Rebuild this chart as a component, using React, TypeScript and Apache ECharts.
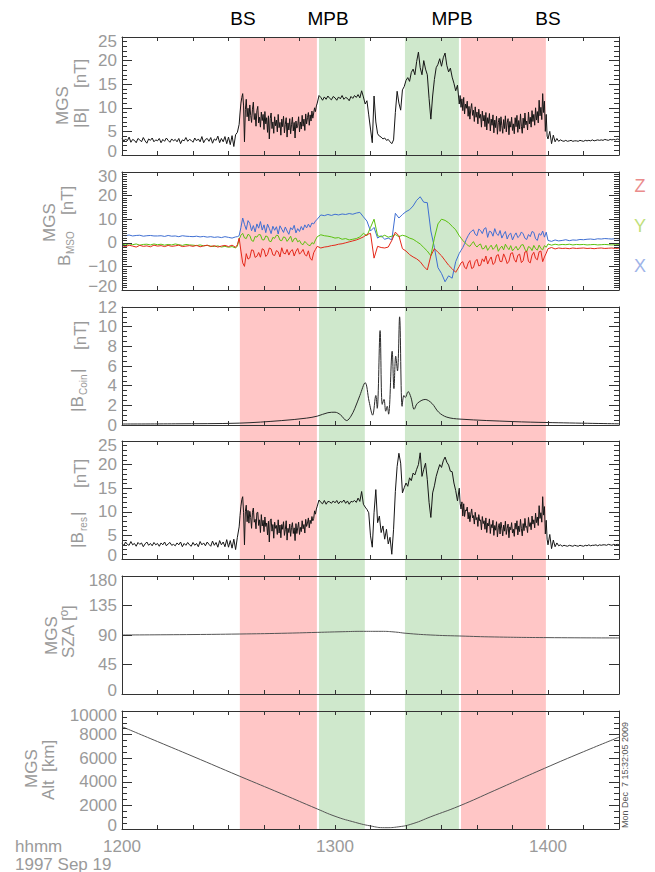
import React, { useEffect, useRef } from 'react';
import * as echarts from 'echarts';

// ---------------- data (time axis in minutes after 12:00) ----------------
// Field-magnitude panels are stored as segments: quiet / sheath / pile-up / sheath / quiet.
const MAG_SEG_START = [0, 33, 55.5, 95.25, 120.5];
const MAG_SEG_STEP = [0.5, 0.25, 0.5, 0.25, 0.5];

// |B| total field, nT
const B_TOTAL_Q1 = [
  3.6, 2.9, 3.4, 3.0, 3.8, 2.7, 3.3, 3.1, 2.6, 3.5,
  3.2, 2.8, 3.7, 3.0, 2.5, 3.4, 3.1, 3.6, 2.8, 3.2,
  3.0, 3.5, 2.6, 3.3, 2.9, 3.6, 3.1, 2.7, 3.4, 3.0,
  3.3, 2.8, 3.5, 2.4, 3.2, 3.0, 3.7, 2.9, 3.3, 3.1,
  2.7, 3.6, 3.0, 3.4, 2.8, 3.9, 2.6, 3.3, 3.5, 2.9,
  3.7, 2.5, 3.4, 3.1, 4.0, 2.6, 3.5, 2.8, 3.9, 2.4,
  3.8, 2.2, 4.1, 1.8, 4.3, 4.8,
];
const B_TOTAL_S1 = [
  6.5, 8.9, 11.0, 12.2, 13.0, 10.4, 2.8, 9.6, 11.8, 8.1,
  9.9, 7.2, 10.6, 8.4, 6.9, 9.7, 11.2, 7.5, 8.8, 6.1,
  9.4, 10.3, 6.8, 8.0, 5.9, 9.1, 7.3, 8.6, 5.4, 9.2,
  6.6, 7.9, 4.8, 8.3, 3.4, 7.7, 8.9, 5.6, 7.0, 4.6,
  8.1, 6.2, 7.4, 4.9, 8.6, 5.8, 6.9, 4.2, 7.6, 6.0,
  8.2, 4.7, 6.5, 7.9, 3.8, 6.8, 5.3, 7.7, 4.5, 6.4,
  8.0, 5.1, 6.9, 3.6, 7.2, 5.7, 6.3, 8.1, 4.9, 7.0,
  5.5, 8.4, 6.1, 7.6, 5.2, 8.7, 6.6, 7.9, 9.0, 6.3,
  8.5, 7.2, 9.3, 7.8, 8.9, 10.0, 9.2, 10.4, 11.0,
];
const B_TOTAL_M = [
  12.6, 12.2, 11.6, 12.3, 11.8, 12.5, 12.0, 11.7, 12.4,
  12.1, 11.6, 12.3, 11.9, 12.6, 11.8, 12.2, 12.0, 11.5, 12.4,
  12.0, 12.6, 12.2, 12.8, 12.1, 13.6, 12.3, 10.8, 11.5, 8.5,
  5.5, 2.6, 12.5, 7.0, 4.5, 4.0, 3.8, 3.4, 3.6, 3.1,
  3.3, 2.8, 2.4, 3.2, 9.0, 13.5, 11.0, 9.5, 13.8, 14.5,
  15.8, 16.4, 15.6, 17.5, 18.2, 17.0, 19.8, 21.8, 18.5, 17.0,
  20.0, 18.2, 17.0, 12.0, 7.6, 12.5, 16.0, 18.5, 19.2, 20.4,
  18.8, 20.6, 21.6, 19.0, 17.6, 18.4, 16.5, 15.2, 13.6, 14.8,
  10.8,
];
const B_TOTAL_S2 = [
  12.6, 10.1, 11.9, 9.4, 12.2, 8.7, 10.8, 9.9, 11.4, 8.2,
  10.3, 7.6, 9.8, 10.9, 8.4, 9.5, 7.1, 10.2, 8.0, 9.1,
  6.6, 9.7, 7.8, 8.6, 5.9, 9.3, 7.2, 8.4, 6.0, 9.0,
  5.3, 7.9, 6.7, 8.8, 5.1, 7.6, 6.3, 8.5, 4.7, 7.4,
  5.8, 8.2, 4.4, 6.9, 7.8, 5.0, 8.1, 6.2, 4.6, 7.5,
  5.6, 8.3, 4.9, 6.8, 7.7, 4.3, 7.1, 5.9, 8.0, 5.2,
  6.6, 4.5, 7.9, 6.0, 8.4, 4.8, 7.3, 5.5, 8.7, 6.1,
  4.6, 7.8, 5.7, 8.9, 6.4, 7.2, 5.3, 9.1, 6.6, 8.0,
  5.9, 9.4, 7.1, 8.6, 6.3, 10.0, 7.4, 9.2, 6.8, 11.6,
  8.3, 10.1, 7.5, 13.0, 9.0, 11.4, 5.0, 8.6, 4.0, 3.4,
];
const B_TOTAL_Q2 = [
  5.0, 2.4, 4.2, 2.8, 3.5, 2.9, 3.2, 3.0, 2.9,
  3.1, 2.9, 3.0, 3.1, 2.9, 3.0, 3.0, 2.9, 3.1, 3.0,
  2.9, 3.1, 3.0, 3.1, 3.0, 3.2, 3.0, 3.1, 3.2, 3.1,
  3.2, 3.1, 3.3, 3.2, 3.1, 3.3, 3.2, 3.3, 3.2, 3.4,
  3.3,
];

// |B_res| residual field, nT
const B_RES_Q1 = [
  3.4, 2.8, 3.6, 3.1, 2.9, 3.7, 3.0, 3.3, 2.7, 3.5,
  3.1, 3.4, 2.6, 3.2, 3.6, 2.9, 3.3, 2.8, 3.5, 3.0,
  3.3, 2.7, 3.4, 3.0, 3.6, 2.8, 3.2, 3.5, 2.9, 3.1,
  2.8, 3.4, 3.0, 3.6, 2.6, 3.3, 2.9, 3.5, 3.0, 2.7,
  3.5, 2.9, 3.3, 2.6, 3.7, 3.0, 3.4, 2.8, 3.6, 3.1,
  2.7, 3.8, 2.9, 3.5, 2.5, 3.9, 3.0, 3.6, 2.6, 4.1,
  2.5, 3.9, 2.3, 4.2, 2.0, 4.6,
];
const B_RES_S1 = [
  6.8, 9.2, 11.2, 12.6, 13.2, 9.8, 3.0, 10.1, 11.4, 7.9,
  10.3, 7.6, 10.1, 8.8, 6.5, 9.9, 10.8, 7.8, 8.4, 6.4,
  9.8, 9.9, 7.1, 8.3, 5.6, 9.4, 7.0, 8.2, 5.8, 8.9,
  6.9, 7.6, 5.1, 8.0, 3.6, 8.1, 8.5, 5.9, 7.3, 4.4,
  7.8, 6.5, 7.1, 5.2, 8.3, 5.5, 7.2, 4.5, 7.3, 6.3,
  7.9, 5.0, 6.2, 8.1, 4.0, 6.5, 5.6, 7.4, 4.8, 6.7,
  7.7, 5.4, 6.6, 3.9, 7.5, 5.4, 6.6, 7.8, 5.2, 6.7,
  5.8, 8.1, 6.4, 7.3, 5.5, 8.4, 6.9, 7.6, 8.7, 6.6,
  8.2, 7.5, 9.0, 8.1, 8.6, 10.2, 9.5, 10.6, 11.2,
];
const B_RES_M = [
  12.5, 12.0, 11.7, 12.4, 11.6, 12.2, 12.1, 11.8, 12.3,
  11.9, 12.4, 11.7, 12.2, 12.0, 12.5, 11.8, 12.3, 11.6, 12.2,
  12.1, 12.4, 12.0, 12.9, 12.2, 14.3, 11.6, 11.0, 10.5, 9.8,
  4.9, 2.5, 9.8, 14.7, 7.7, 9.1, 5.6, 7.0, 4.2, 6.3,
  3.2, 4.6, 1.0, 6.3, 14.3, 19.6, 22.4, 20.3, 14.0, 15.1,
  16.1, 15.4, 17.2, 16.6, 18.2, 17.8, 19.0, 20.0, 22.5, 17.5,
  19.0, 20.3, 16.8, 12.0, 8.8, 14.0, 15.5, 17.5, 18.8, 20.0,
  19.4, 20.8, 21.6, 20.5, 19.9, 18.6, 18.5, 16.1, 14.5, 12.3,
  15.0,
];
const B_RES_S2 = [
  11.8, 10.6, 12.1, 9.1, 11.7, 9.0, 10.4, 10.2, 11.0, 8.5,
  9.9, 7.9, 9.5, 10.6, 8.7, 9.2, 7.4, 9.9, 8.3, 8.8,
  6.9, 9.4, 8.1, 8.3, 6.2, 9.0, 7.5, 8.1, 6.3, 8.7,
  5.6, 7.6, 7.0, 8.5, 5.4, 7.3, 6.6, 8.2, 5.0, 7.1,
  6.1, 7.9, 4.7, 6.6, 7.5, 5.3, 7.8, 6.5, 4.9, 7.2,
  5.9, 8.0, 5.2, 6.5, 7.4, 4.5, 6.8, 6.2, 7.7, 5.5,
  6.3, 4.8, 7.6, 6.3, 8.1, 5.1, 7.0, 5.8, 8.4, 6.4,
  4.9, 7.5, 6.0, 8.6, 6.7, 6.9, 5.6, 8.8, 6.9, 7.7,
  6.2, 9.1, 7.4, 8.3, 6.6, 9.7, 7.7, 8.9, 7.1, 11.3,
  8.6, 9.8, 7.8, 13.2, 9.3, 11.1, 5.3, 8.2, 4.2, 3.0,
];
const B_RES_Q2 = [
  5.2, 2.2, 4.0, 2.6, 3.4, 2.8, 3.0, 2.7, 2.9,
  2.8, 2.7, 2.9, 2.8, 2.7, 2.9, 2.8, 2.7, 2.9, 2.8,
  2.7, 2.9, 2.8, 3.0, 2.8, 2.9, 2.9, 3.0, 2.8, 3.0,
  2.9, 3.0, 3.0, 2.9, 3.1, 3.0, 2.9, 3.1, 3.0, 3.1,
  3.0,
];

// B components in MSO frame, nT
const VEC_SEG_START = [0, 32.5, 56, 95.5, 121];
const VEC_SEG_STEP = [1, 0.5, 1, 0.5, 1];

const BX_Q1 = [
  3.2, 3.0, 3.3, 2.9, 3.1, 3.2, 2.8, 3.0, 3.1, 2.9,
  2.9, 3.0, 2.7, 3.1, 2.8, 2.9, 2.6, 3.0, 2.8, 2.7,
  2.6, 2.8, 2.5, 2.7, 2.4, 2.6, 2.3, 2.5, 2.2, 2.6,
  2.3, 2.0, 2.5,
];
const BX_S1 = [
  2.6, 3.0, 6.5, 10.5, 7.8, 5.6, 9.4, 8.2, 5.1, 7.3,
  4.6, 8.0, 6.2, 9.0, 5.4, 7.6, 4.3, 7.9, 6.1, 3.9,
  7.0, 5.3, 6.8, 3.7, 7.2, 5.8, 4.4, 6.7, 5.0, 3.6,
  6.4, 5.5, 7.4, 4.2, 6.0, 4.8, 6.9, 5.4, 7.6, 6.3,
  7.9, 6.6, 8.4, 8.0, 9.2, 10.0,
];
const BX_M = [
  11.8, 11.5, 12.0, 11.6,
  12.1, 11.8, 12.2, 12.0, 12.4, 12.1, 12.6, 12.9, 11.0, 9.2,
  5.0, 6.5, 2.0, 3.0, 1.5, 2.0, 1.2, 12.5, 10.5, 12.0,
  13.2, 14.0, 15.6, 18.0, 19.5, 17.2, 17.0, 5.0, -2.0, -10.5,
  -13.0, -16.5, -14.0, -15.0, -8.0, -4.5,
];
const BX_S2 = [
  -3.2, -2.0, -0.4, 1.5, 3.0, 4.2, 5.0, 5.5, 3.6, 3.0,
  5.8, 5.2, 3.9, 5.9, 6.4, 2.3, 4.9, 4.6, 2.8, 6.0,
  3.8, 3.1, 5.2, 2.0, 3.6, 4.8, 1.6, 3.4, 4.1, 1.2,
  3.0, 4.2, 2.2, 2.9, 4.6, 3.8, 1.9, 1.4, 3.5, 2.6,
  4.8, 4.4, 1.7, 1.0, 3.9, 3.2, 5.0, 2.4, 4.5, 1.0,
];
const BX_Q2 = [
  0.6, 1.2, 0.8, 1.0, 1.3, 0.9, 1.2, 1.1, 1.4,
  1.3, 1.5, 1.6, 1.4, 1.7, 1.6, 1.8, 1.7, 1.6, 1.8,
  1.7,
];

const BY_Q1 = [
  -0.6, -0.9, -0.4, -0.8, -0.5, -1.0, -0.7, -0.6, -0.9, -0.5,
  -0.8, -0.6, -1.0, -0.7, -0.9, -0.5, -0.8, -1.1, -0.7, -0.9,
  -1.0, -1.2, -0.9, -1.3, -1.1, -1.4, -1.6, -1.3, -1.8, -1.5,
  -1.9, -1.6, -2.2,
];
const BY_S1 = [
  -1.4, 1.5, 3.2, 4.0, 2.1, 1.8, 3.6, 3.1, 1.0, 0.6,
  2.7, 2.4, 3.5, 3.4, 1.3, 1.2, 2.9, 2.6, 0.7, 0.5,
  2.3, 1.9, 3.2, 3.0, 1.1, 0.9, 2.5, 2.2, 0.6, 1.6,
  2.8, 0.3, 1.7, 2.0, 0.4, 1.0, -0.4, -0.8, 0.6, -0.2,
  -1.0, -1.2, 0.1, -0.5, 1.2, 2.6,
];
const BY_M = [
  3.4, 3.0, 2.8, 2.5,
  2.0, 2.2, 1.5, 1.8, 1.2, 1.5, 1.8, 2.5, 4.0, 3.0,
  6.5, 10.0, 3.0, 2.5, 3.2, 2.4, 2.8, 3.5, 2.6, 3.2,
  2.8, 2.0, 1.5, 0.5, -0.5, -2.0, -3.5, -5.5, 2.0, 8.0,
  10.0, 9.5, 8.5, 7.0, 5.5, 3.0,
];
const BY_S2 = [
  2.0, 1.0, 0.2, -0.5, -1.2, -1.5, -0.4, 0.5, -1.0, -1.8,
  -0.9, -0.5, -2.6, -2.4, -1.1, -3.2, -2.0, -1.0, -2.8, -2.0,
  -0.7, -3.6, -2.3, -1.4, -3.0, -0.6, -1.9, -2.9, -1.2, -3.4,
  -2.5, -1.5, -3.1, -2.2, -0.9, -0.8, -2.7, -3.8, -1.6, -2.0,
  -3.3, -1.1, -2.5, -3.1, -1.0, -2.4, -3.0, -1.2, -1.9, -0.5,
];
const BY_Q2 = [
  -1.0, -0.6, -0.9, -0.7, -0.8, -0.6, -0.9, -0.7, -0.8,
  -0.7, -0.9, -0.8, -0.7, -0.9, -0.8, -0.7, -0.8, -0.9, -0.8,
  -0.8,
];

const BZ_Q1 = [
  -1.2, -1.6, -1.0, -1.4, -1.8, -1.1, -1.5, -1.3, -1.7, -1.0,
  -1.4, -1.2, -1.6, -1.1, -1.5, -1.3, -1.0, -1.6, -1.4, -1.2,
  -1.5, -1.1, -1.7, -1.3, -1.0, -1.6, -1.2, -1.8, -1.4, -1.1,
  -1.6, -1.0, -1.9,
];
const BZ_S1 = [
  -0.8, 2.0, -3.5, -8.5, -10.0, -4.6, -6.9, -6.4, -3.0, -3.2,
  -6.2, -5.7, -4.1, -6.1, -2.5, -3.0, -5.8, -4.9, -2.2, -2.6,
  -5.1, -5.4, -3.3, -3.8, -6.0, -2.1, -4.4, -4.7, -2.8, -5.2,
  -3.5, -2.9, -5.6, -3.6, -2.4, -4.8, -4.0, -2.8, -5.0, -5.6,
  -3.4, -6.5, -7.4, -4.2, -2.8, -1.5,
];
const BZ_M = [
  -2.2, -1.8, -1.6, -1.2,
  -1.0, -0.6, -0.4, 0.0, 0.4, 0.8, 1.2, 1.8, 2.5, 3.5,
  4.0, -6.5, -1.5, -2.0, -2.2, -1.8, 1.0, 4.5, 3.0, -2.5,
  -3.5, -5.0, -6.0, -6.8, -8.0, -10.0, -11.5, -5.5, -2.5, -4.0,
  -5.5, -7.5, -9.5, -11.0, -12.5, -10.0,
];
const BZ_S2 = [
  -8.5, -8.0, -10.4, -11.0, -8.6, -7.5, -10.9, -10.5, -7.9, -7.0,
  -9.8, -9.5, -6.8, -8.0, -5.6, -9.0, -7.2, -6.0, -9.2, -8.5,
  -5.4, -5.0, -7.9, -8.0, -4.7, -6.4, -8.8, -7.8, -4.5, -4.2,
  -7.0, -8.2, -5.3, -4.8, -8.4, -7.6, -3.9, -3.6, -7.9, -8.5,
  -5.2, -4.0, -6.6, -7.2, -3.8, -3.5, -8.0, -6.0, -4.4, -2.5,
];
const BZ_Q2 = [
  -2.0, -2.6, -2.2, -2.4, -2.3, -2.5, -2.2, -2.4, -2.3,
  -2.2, -2.4, -2.3, -2.5, -2.3, -2.2, -2.4, -2.3, -2.2, -2.4,
  -2.3,
];

// |B_Coin| crustal model field, [minute, nT]
const B_COIN = [
  [0, 0.1], [15, 0.12], [33, 0.19], [45, 0.45], [52, 0.7], [55, 0.9], [58, 1.25],
  [60, 1.3], [61.5, 1.05], [63.3, 0.45], [64.5, 0.9], [65.6, 1.7], [67, 3.0],
  [68.5, 4.3], [69.6, 2.4], [70.6, 1.0], [71.5, 3.0], [71.9, 1.7], [72.7, 9.6],
  [73.3, 2.1], [73.8, 2.6], [74.3, 1.4], [74.7, 1.9], [75.1, 1.1], [76.1, 7.5],
  [76.6, 3.7], [77.1, 7.0], [77.6, 5.5], [78.2, 11.0], [78.9, 1.9], [79.4, 3.0],
  [79.8, 2.8], [80.6, 3.4], [81.4, 2.8], [82.3, 1.6], [83.2, 2.2], [85.4, 2.6],
  [87.3, 2.2], [89.2, 1.3], [91.5, 0.8], [95.2, 0.6], [110, 0.35], [120, 0.25],
  [140, 0.12],
];

// solar zenith angle, [minute, deg]
const SZA = [
  [0, 90], [20, 90.7], [33, 91.5], [45, 92.6], [55, 94], [62, 95.0], [68, 95.6],
  [73, 95.6], [77, 94.5], [80, 92.6], [87, 90], [95, 88.5], [105, 87], [120, 86],
  [140, 85.5],
];

// altitude, [minute, km]
const ALT = [
  [0, 8670], [10, 7410], [20, 6150], [33, 4490], [45, 2980], [55, 1700],
  [60, 1080], [65, 620], [70, 260], [74, 110], [78, 190], [82, 460], [87, 1040],
  [95, 1950], [105, 3270], [119, 5140], [130, 6550], [140, 7780],
];

const X_MIN = 0;
const X_MAX = 140;
const X_TICK_STEP = 10;
const X_TICK_VALUES = [0, 60, 120];
const X_TICK_LABELS = ['1200', '1300', '1400'];

const BAND_START = [33.2, 55.5, 79.7, 95.5];
const BAND_END = [54.9, 68.4, 94.9, 119.4];
const BAND_KIND = [0, 1, 1, 0]; // 0 = sheath (red), 1 = pile-up (green)

const BOUNDARY_LABELS = ['BS', 'MPB', 'MPB', 'BS'];
const COMPONENT_LABELS = ['Z', 'Y', 'X'];
const DATE_LINE = '1997 Sep 19';
const TIME_UNIT = 'hhmm';
const STAMP = 'Mon Dec  7 15:32:05 2009';

// ---------------- layout / style ----------------
const W = 655;
const H = 872;
const GRID_LEFT = 122;
const GRID_RIGHT = 36;
const PANEL_TOPS = [37, 172, 307, 441, 576, 711];
const PANEL_H = 118;
const FONT = '"Liberation Sans", Arial, Helvetica, sans-serif';
const AX = '#333333';
const LBL = '#9a9a9a';
const RED = '#ffc6c6';
const GREEN = '#cfe8cc';
const LABEL_LH = 10;
const EDGE_SHIFT_PAD = 8;

const Y_SPECS = [
  { min: 0, max: 25, interval: 5, minor: 5, shiftEdges: true },
  { min: -20, max: 30, interval: 10, minor: 10, shiftEdges: true },
  { min: 0, max: 12, interval: 2, minor: 4, shiftEdges: false },
  { min: 0, max: 25, interval: 5, minor: 5, shiftEdges: true },
  { min: 0, max: 180, interval: 45, minor: 0, shiftEdges: true },
  { min: 0, max: 10000, interval: 2000, minor: 4, shiftEdges: true },
];

function fmtNum(v: number): string {
  const s = String(Math.round(v * 1000) / 1000);
  return s.replace('-', '\u2212');
}

function segPairs(starts: number[], steps: number[], segs: number[][]): number[][] {
  const out: number[][] = [];
  segs.forEach((seg, k) => {
    seg.forEach((v, i) => out.push([starts[k] + i * steps[k], v]));
  });
  return out;
}

function buildOption() {
  const bTotal = segPairs(MAG_SEG_START, MAG_SEG_STEP, [B_TOTAL_Q1, B_TOTAL_S1, B_TOTAL_M, B_TOTAL_S2, B_TOTAL_Q2]);
  const bRes = segPairs(MAG_SEG_START, MAG_SEG_STEP, [B_RES_Q1, B_RES_S1, B_RES_M, B_RES_S2, B_RES_Q2]);
  const bx = segPairs(VEC_SEG_START, VEC_SEG_STEP, [BX_Q1, BX_S1, BX_M, BX_S2, BX_Q2]);
  const by = segPairs(VEC_SEG_START, VEC_SEG_STEP, [BY_Q1, BY_S1, BY_M, BY_S2, BY_Q2]);
  const bz = segPairs(VEC_SEG_START, VEC_SEG_STEP, [BZ_Q1, BZ_S1, BZ_M, BZ_S2, BZ_Q2]);

  const grids: any[] = PANEL_TOPS.map((top) => ({
    left: GRID_LEFT, right: GRID_RIGHT, top, height: PANEL_H, containLabel: false,
  }));
  grids.push({ left: GRID_LEFT, right: GRID_RIGHT, top: PANEL_TOPS[0], height: PANEL_TOPS[5] + PANEL_H - PANEL_TOPS[0] });

  const xAxes: any[] = [];
  const yAxes: any[] = [];
  PANEL_TOPS.forEach((_, i) => {
    const baseX = {
      type: 'value', gridIndex: i, min: X_MIN, max: X_MAX, interval: X_TICK_STEP, z: 3,
      axisLine: { show: true, onZero: false, lineStyle: { color: AX, width: 1 } },
      axisTick: { show: true, inside: true, length: 4, lineStyle: { color: AX } },
      splitLine: { show: false },
    };
    xAxes.push({
      ...baseX, position: 'bottom',
      axisLabel: i === 5 ? {
        show: true, margin: 9, color: LBL, fontSize: 17, fontFamily: FONT,
        showMinLabel: true, showMaxLabel: true,
        formatter: (v: number) => {
          const k = X_TICK_VALUES.indexOf(Math.round(v));
          return k >= 0 ? X_TICK_LABELS[k] : '';
        },
      } : { show: false },
    });
    xAxes.push({ ...baseX, position: 'top', axisLabel: { show: false } });

    const s = Y_SPECS[i];
    const baseY = {
      type: 'value', gridIndex: i, min: s.min, max: s.max, interval: s.interval, z: 3,
      axisLine: { show: true, onZero: false, lineStyle: { color: AX, width: 1 } },
      axisTick: { show: true, inside: true, length: 10, lineStyle: { color: AX } },
      minorTick: { show: s.minor > 0, splitNumber: s.minor || 5, length: 5, lineStyle: { color: AX } },
      splitLine: { show: false },
      minorSplitLine: { show: false },
    };
    const labelBase: any = {
      show: true, margin: 5, color: LBL, fontSize: 17, fontFamily: FONT,
      showMinLabel: true, showMaxLabel: true, hideOverlap: false,
    };
    let axisLabel: any;
    if (s.shiftEdges) {
      axisLabel = {
        ...labelBase,
        lineHeight: LABEL_LH,
        rich: {
          lo: { fontSize: 17, fontFamily: FONT, color: LBL, lineHeight: LABEL_LH, padding: [0, 0, EDGE_SHIFT_PAD, 0] },
          hi: { fontSize: 17, fontFamily: FONT, color: LBL, lineHeight: LABEL_LH, padding: [EDGE_SHIFT_PAD, 0, 0, 0] },
        },
        formatter: (v: number) => {
          const t = fmtNum(v);
          if (Math.abs(v - s.min) < 1e-9) return '{lo|' + t + '}';
          if (Math.abs(v - s.max) < 1e-9) return '{hi|' + t + '}';
          return t;
        },
      };
    } else {
      axisLabel = { ...labelBase, formatter: (v: number) => fmtNum(v) };
    }
    yAxes.push({ ...baseY, position: 'left', axisLabel });
    yAxes.push({ ...baseY, position: 'right', axisLabel: { show: false } });
  });
  xAxes.push({ type: 'value', gridIndex: 6, min: X_MIN, max: X_MAX, show: false });
  yAxes.push({ type: 'value', gridIndex: 6, min: 0, max: 1, show: false });

  const line = (xi: number, data: any[], color: string, extra: any = {}) => ({
    type: 'line', xAxisIndex: xi, yAxisIndex: xi, data, showSymbol: false, symbol: 'none',
    silent: true, z: 2, lineStyle: { color, width: 1 }, ...extra,
  });

  const series: any[] = [
    {
      type: 'custom', xAxisIndex: 12, yAxisIndex: 12, z: 1, silent: true,
      data: BAND_START.map((st, i) => [st, BAND_END[i], BAND_KIND[i]]),
      encode: { x: [0, 1] },
      renderItem: (_p: any, api: any) => {
        const a = api.coord([api.value(0), 1]);
        const b = api.coord([api.value(1), 0]);
        return {
          type: 'rect',
          shape: { x: a[0], y: a[1], width: b[0] - a[0], height: b[1] - a[1] },
          style: { fill: api.value(2) === 0 ? RED : GREEN },
        };
      },
    },
    line(0, bTotal, '#161616'),
    line(2, bx, '#3f6fd2'),
    line(2, by, '#5cc010'),
    line(2, bz, '#e3281a'),
    line(4, B_COIN, '#2a2a2a', { smooth: 0.35 }),
    line(6, bRes, '#161616'),
    line(8, SZA, '#555555', { smooth: true }),
    line(10, ALT, '#555555', { smooth: true }),
  ];

  const txt = (text: string, x: number, y: number, o: any = {}) => ({
    type: 'text', x, y, z: 10, silent: true, rotation: o.rot ? Math.PI / 2 : 0,
    style: {
      text, fill: o.fill || LBL, fontSize: o.size || 17, fontFamily: FONT,
      textAlign: o.align || 'left', textVerticalAlign: 'middle',
      align: o.align || 'left', verticalAlign: 'middle',
    },
  });
  const R = { rot: true };
  const SUB = { rot: true, size: 10 };

  const graphic: any[] = [
    // boundary labels
    txt(BOUNDARY_LABELS[0], 243, 18, { fill: '#000', size: 19, align: 'center' }),
    txt(BOUNDARY_LABELS[1], 328, 18, { fill: '#000', size: 19, align: 'center' }),
    txt(BOUNDARY_LABELS[2], 452, 18, { fill: '#000', size: 19, align: 'center' }),
    txt(BOUNDARY_LABELS[3], 548, 18, { fill: '#000', size: 19, align: 'center' }),
    // panel 1 title
    txt('MGS', 62, 125, R),
    txt('|B|', 80, 128, R),
    txt('[nT]', 80, 88, R),
    // panel 2 title
    txt('MGS', 49, 242, R),
    txt('B', 64, 266, R),
    txt('MSO', 70, 254, SUB),
    txt('[nT]', 67, 215, R),
    // panel 3 title
    txt('|B', 77, 412, R),
    txt('Coin', 83, 395, SUB),
    txt('|', 77, 373, R),
    txt('[nT]', 80, 350, R),
    // panel 4 title
    txt('|B', 77, 548, R),
    txt('res', 83, 531, SUB),
    txt('|', 77, 516, R),
    txt('[nT]', 80, 488, R),
    // panel 5 title
    txt('MGS', 51, 655, R),
    txt('SZA', 68, 658, R),
    txt('[\u00BA]', 68, 621, R),
    // panel 6 title
    txt('MGS', 31, 788, R),
    txt('Alt', 48, 800, R),
    txt('[km]', 48, 772, R),
    // component legend
    txt(COMPONENT_LABELS[0], 640, 186, { fill: '#ea8c8c', size: 18, align: 'center' }),
    txt(COMPONENT_LABELS[1], 640, 226, { fill: '#bfe07c', size: 18, align: 'center' }),
    txt(COMPONENT_LABELS[2], 640, 266, { fill: '#9fb4e8', size: 18, align: 'center' }),
    // bottom-left labels
    txt(TIME_UNIT, 15, 846),
    txt(DATE_LINE, 15, 864),
    // stamp
    txt(STAMP, 625, 828, { rot: true, size: 9, fill: '#555' }),
  ];

  return {
    animation: false,
    backgroundColor: '#ffffff',
    textStyle: { fontFamily: FONT },
    grid: grids,
    xAxis: xAxes,
    yAxis: yAxes,
    series,
    graphic: { elements: graphic },
  };
}

export default function App() {
  const ref = useRef<HTMLDivElement>(null);
  useEffect(() => {
    if (!ref.current) return;
    const chart = echarts.init(ref.current, null, { renderer: 'svg', width: W, height: H });
    chart.setOption(buildOption() as any);
    return () => chart.dispose();
  }, []);
  return (
    <div
      ref={ref}
      style={{ position: 'absolute', left: 0, top: 0, width: W, height: H, background: '#fff' }}
    />
  );
}
